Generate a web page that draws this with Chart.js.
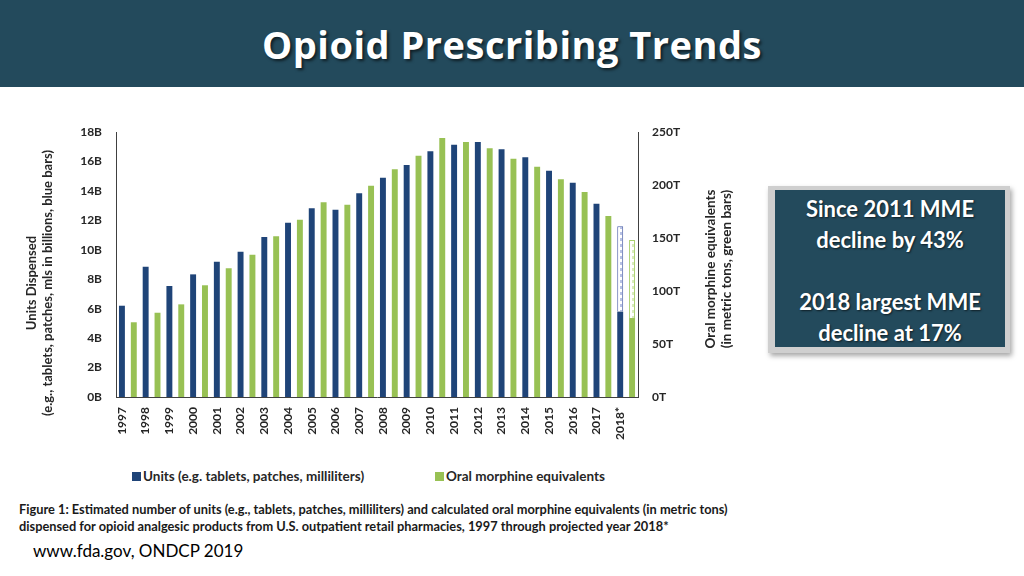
<!DOCTYPE html>
<html>
<head>
<meta charset="utf-8">
<script src="https://cdn.jsdelivr.net/npm/chart.js@4/dist/chart.umd.min.js"></script>
<style>
html,body{margin:0;padding:0;background:#fff;}
#page{position:relative;width:1024px;height:576px;overflow:hidden;font-family:Lato,"Open Sans",sans-serif;}
#header{position:absolute;left:0;top:0;width:1024px;height:87px;background:#234a5c;}
#title{position:absolute;left:0;top:0;width:1024px;height:87px;line-height:89px;text-align:center;color:#fff;font-family:"Open Sans",Lato,sans-serif;font-weight:700;font-size:38px;letter-spacing:0.5px;text-shadow:2px 2px 3px rgba(0,0,0,0.6);}
#chartWrap{position:absolute;left:0;top:100px;width:736px;height:360px;}
#note{position:absolute;left:768px;top:186px;width:242px;height:167px;background:#cfcfcf;box-shadow:2px 3px 5px rgba(0,0,0,0.35);}
#noteInner{position:absolute;left:7px;top:4px;right:5px;bottom:6px;background:#234a5c;color:#fff;font-weight:700;font-size:22px;line-height:31px;text-align:center;padding-top:3px;box-sizing:border-box;text-shadow:1px 1px 2px rgba(0,0,0,0.6);}
#legend{position:absolute;left:132px;top:466px;height:20px;font-weight:700;font-size:13.5px;line-height:20px;color:#262626;white-space:nowrap;}
#legend .item{position:absolute;top:0;}
#legend .box{display:inline-block;width:9px;height:9px;vertical-align:-0px;margin-right:2px;}
#caption{position:absolute;left:19px;top:501px;font-weight:700;font-size:12.8px;line-height:17px;color:#1a1a1a;white-space:nowrap;}
#source{position:absolute;left:33px;top:540px;font-size:17px;line-height:22px;color:#000;white-space:nowrap;}
</style>
</head>
<body>
<div id="page">
  <div id="header"></div>
  <div id="title">Opioid Prescribing Trends</div>
  <div id="chartWrap"><canvas id="chart"></canvas></div>
  <div id="legend"></div>
  <div id="note"><div id="noteInner">Since 2011 MME<br>decline by 43%<br><br>2018 largest MME<br>decline at 17%</div></div>
  <div id="caption">Figure 1: Estimated number of units (e.g., tablets, patches, milliliters) and calculated oral morphine equivalents (in metric tons)<br>dispensed for opioid analgesic products from U.S. outpatient retail pharmacies, 1997 through projected year 2018*</div>
  <div id="source">www.fda.gov, ONDCP 2019</div>
</div>
<script>
// ---- Data ----
const years = ['1997','1998','1999','2000','2001','2002','2003','2004','2005','2006','2007','2008','2009','2010','2011','2012','2013','2014','2015','2016','2017','2018*'];
// Units dispensed, billions (blue bars); 2018 = reported part
const unitsBillions = [6.2, 8.85, 7.54, 8.33, 9.19, 9.87, 10.87, 11.84, 12.82, 12.72, 13.84, 14.9, 15.76, 16.69, 17.14, 17.32, 16.82, 16.28, 15.37, 14.56, 13.13, 5.8];
// Projected remainder for 2018 (hatched part on top)
const unitsProjectedBillions = [null,null,null,null,null,null,null,null,null,null,null,null,null,null,null,null,null,null,null,null,null, 5.8];
// Oral morphine equivalents, metric tons (green bars)
const mmeTons = [70.5, 79.5, 87.4, 105.4, 121.4, 134.2, 151.6, 167.3, 183.7, 181.4, 199.3, 214.8, 227.6, 244.3, 240.6, 234.6, 224.8, 217.3, 205.4, 193.4, 170.8, 74.5];
const mmeProjectedTons = [null,null,null,null,null,null,null,null,null,null,null,null,null,null,null,null,null,null,null,null,null, 73.6];
const leftAxisTitle = ['Units Dispensed', '(e.g., tablets, patches, mls in billions, blue bars)'];
const rightAxisTitle = ['Oral morphine equivalents', '(in metric tons, green bars)'];
const seriesNames = ['Units (e.g. tablets, patches, milliliters)', 'Oral morphine equivalents'];

const BLUE = '#1f4478';
const GREEN = '#98c154';
const FONT = 'Lato, "Open Sans", sans-serif';
const TXT = '#262626';

function makePattern(dash) {
  const c = document.createElement('canvas');
  c.width = 6; c.height = 6;
  const g = c.getContext('2d');
  g.fillStyle = '#ffffff'; g.fillRect(0,0,6,6);
  g.fillStyle = dash; g.fillRect(2,0,2,3);
  return g.createPattern(c, 'repeat');
}

const axisTitlePlugin = {
  id: 'axisTitles',
  afterDraw(chart) {
    const ctx = chart.ctx;
    ctx.save();
    ctx.fillStyle = TXT;
    ctx.textAlign = 'center';
    ctx.textBaseline = 'middle';
    const drawRot = (lines, x0, yc, size) => {
      ctx.font = 'bold ' + size + 'px ' + FONT;
      lines.forEach((t, i) => {
        ctx.save();
        ctx.translate(x0 + i * 16, yc);
        ctx.rotate(-Math.PI / 2);
        ctx.fillText(t, 0, 0);
        ctx.restore();
      });
    };
    drawRot(leftAxisTitle, 32, 183, 13);
    drawRot(rightAxisTitle, 711, 169, 13.5);
    ctx.restore();
  }
};

const tickFont = { family: FONT, weight: 'bold', size: 12 };

const chart = new Chart(document.getElementById('chart'), {
  type: 'bar',
  data: {
    labels: years,
    datasets: [
      { label: seriesNames[0], data: unitsBillions, backgroundColor: BLUE, yAxisID: 'y', stack: 'units', barPercentage: 0.5, categoryPercentage: 1.0 },
      { label: 'Units (projected)', data: unitsProjectedBillions, backgroundColor: makePattern('#b7c1e4'), borderColor: '#4a5ea8', borderWidth: 1, yAxisID: 'y', stack: 'units', barPercentage: 0.5, categoryPercentage: 1.0 },
      { label: seriesNames[1], data: mmeTons, backgroundColor: GREEN, yAxisID: 'y1', stack: 'mme', barPercentage: 0.5, categoryPercentage: 1.0 },
      { label: 'MME (projected)', data: mmeProjectedTons, backgroundColor: makePattern('#d9ebbd'), borderColor: '#a9d06c', borderWidth: 1, yAxisID: 'y1', stack: 'mme', barPercentage: 0.5, categoryPercentage: 1.0 }
    ]
  },
  options: {
    responsive: true,
    maintainAspectRatio: false,
    animation: false,
    layout: { padding: { top: 32, left: 0, right: 0, bottom: 0 } },
    plugins: {
      legend: { display: false },
      tooltip: { enabled: false }
    },
    scales: {
      x: {
        stacked: true,
        grid: { display: false, drawTicks: false },
        border: { display: true, color: '#404040' },
        ticks: { minRotation: 90, maxRotation: 90, autoSkip: false, labelOffset: -6, padding: 10, color: TXT, font: tickFont },
        afterFit: (a) => { a.height = 63; }
      },
      y: {
        stacked: true, position: 'left', min: 0, max: 18,
        grid: { display: false, drawTicks: false },
        border: { display: true, color: '#404040' },
        ticks: { stepSize: 2, padding: 14, color: TXT, font: tickFont, callback: (v) => v + 'B' },
        afterFit: (a) => { a.width = 116; }
      },
      y1: {
        stacked: true, position: 'right', min: 0, max: 250,
        grid: { display: false, drawTicks: false },
        border: { display: true, color: '#404040' },
        ticks: { stepSize: 50, padding: 14, color: TXT, font: tickFont, callback: (v) => v + 'T' },
        afterFit: (a) => { a.width = 98; }
      }
    }
  },
  plugins: [axisTitlePlugin]
});

// HTML legend built from the chart's own datasets
const legendEl = document.getElementById('legend');
const legendX = [0, 303];
[0, 2].forEach((di, k) => {
  const ds = chart.data.datasets[di];
  const item = document.createElement('span');
  item.className = 'item';
  item.style.left = legendX[k] + 'px';
  const box = document.createElement('span');
  box.className = 'box';
  box.style.background = ds.backgroundColor;
  item.appendChild(box);
  item.appendChild(document.createTextNode(ds.label));
  legendEl.appendChild(item);
});
</script>
</body>
</html>
